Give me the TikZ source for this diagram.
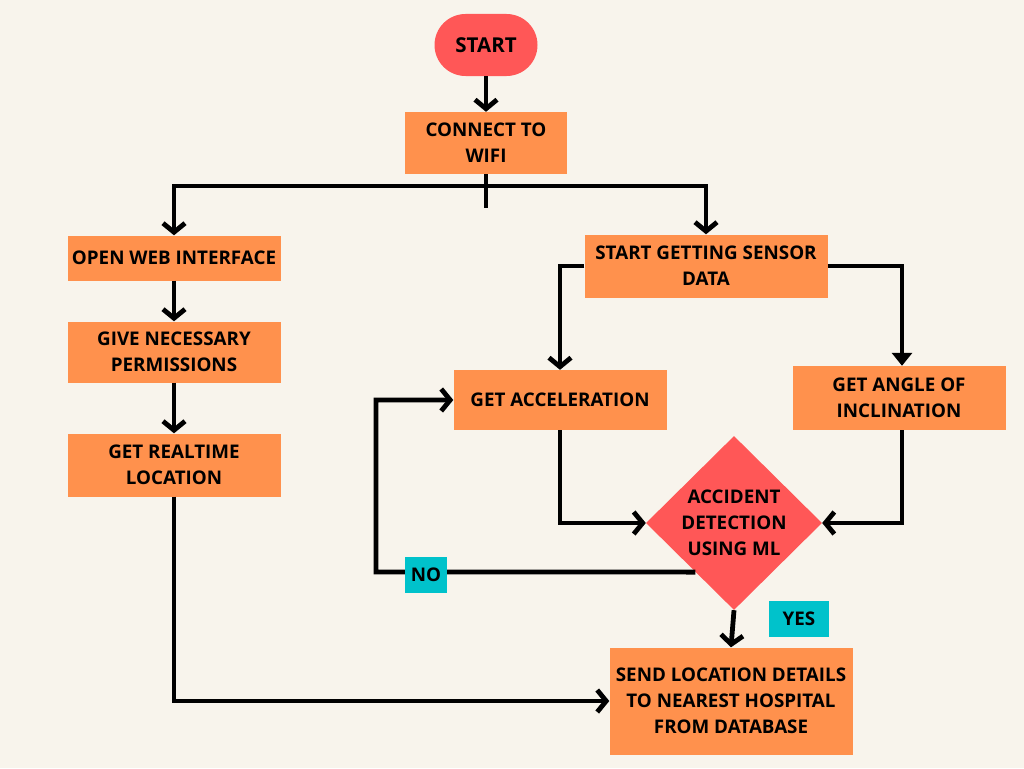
\documentclass[tikz,border=0pt]{standalone}
\usepackage{fontspec}
\setmainfont{Open Sans}
\usetikzlibrary{arrows.meta,shapes.geometric,calc}
\definecolor{bg}{HTML}{F8F4EC}
\definecolor{orng}{HTML}{FF914D}
\definecolor{redd}{HTML}{FF5757}
\definecolor{teal}{HTML}{00C2CB}
\tikzset{
  box/.style={fill=orng, draw=none, inner sep=0pt, align=center, font=\fontsize{18.8}{26}\selectfont\bfseries},
  lbl/.style={fill=teal, draw=none, inner sep=0pt, align=center, font=\fontsize{18.8}{26}\selectfont\bfseries},
  conn/.style={line width=4.8pt, black, line join=miter},
  arr/.style={conn, -{Straight Barb[length=9pt,width=22pt]}},
  farr/.style={conn, -{Triangle[length=13pt,width=20pt]}},
}
\begin{document}
\begin{tikzpicture}[x=1pt,y=-1pt]
\fill[bg] (0,0) rectangle (1024,768);
\useasboundingbox (0,0) rectangle (1024,768);

\node[fill=redd, rounded corners=31pt, minimum width=103pt, minimum height=62pt, inner sep=0pt,
      font=\fontsize{20.5}{26}\selectfont\bfseries] (start) at (486,45) {START};
\node[box, minimum width=162pt, minimum height=62pt] (wifi) at (486,143) {CONNECT TO\\WIFI};
\node[box, minimum width=213pt, minimum height=45pt] (web) at (174,258) {OPEN WEB INTERFACE};
\node[box, minimum width=213pt, minimum height=61pt] (perm) at (174,352) {GIVE NECESSARY\\PERMISSIONS};
\node[box, minimum width=213pt, minimum height=63pt] (loc) at (174,465) {GET REALTIME\\LOCATION};
\node[box, minimum width=243pt, minimum height=63pt] (sensor) at (706,266) {START GETTING SENSOR\\DATA};
\node[box, minimum width=213pt, minimum height=60pt] (accel) at (560,400) {GET ACCELERATION};
\node[box, minimum width=213pt, minimum height=64pt] (angle) at (899,398) {GET ANGLE OF\\INCLINATION};
\node[diamond, fill=redd, inner sep=0pt, minimum width=176pt, minimum height=174pt, align=center,
      font=\fontsize{18.8}{26}\selectfont\bfseries] (dia) at (734,523) {ACCIDENT\\DETECTION\\USING ML};
\node[box, minimum width=243pt, minimum height=107pt] (send) at (731,701) {SEND LOCATION DETAILS\\TO NEAREST HOSPITAL\\FROM DATABASE};

\coordinate (split) at (486,186);
\coordinate (stub) at (486,208);
\coordinate (nostart) at ($(dia.west)!0.563!(dia.south)$);
\coordinate (noloop) at (376,572);

\draw[arr] (start.south) -- (wifi.north);
\draw[conn] (wifi.south) -- (stub);
\draw[arr] (split) -| (web.north);
\draw[arr] (split) -| (sensor.north);
\draw[arr] (web.south) -- (perm.north);
\draw[arr] (perm.south) -- (loc.north);
\draw[arr] (loc.south) |- (send.west);
\draw[arr] (sensor.west) -| (accel.north);
\draw[farr] (sensor.east) -| ([xshift=3pt]angle.north);
\draw[arr] (accel.south) |- (dia.west);
\draw[arr] ([xshift=3pt]angle.south) |- (dia.east);
\draw[arr] (nostart) -- (noloop) |- (accel.west);
\draw[arr] (dia.south) -- (send.north);

\node[lbl, minimum width=42pt, minimum height=36pt] (no) at (426,575) {NO};
\node[lbl, minimum width=60pt, minimum height=36pt] (yes) at (799,619) {YES};
\end{tikzpicture}
\end{document}
